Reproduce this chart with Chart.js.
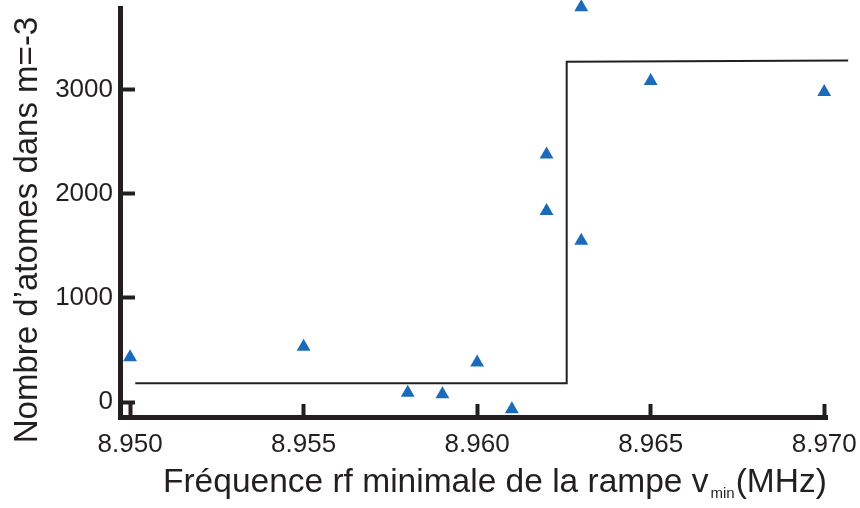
<!DOCTYPE html>
<html>
<head>
<meta charset="utf-8">
<script src="https://cdn.jsdelivr.net/npm/chart.js@4/dist/chart.umd.min.js"></script>
<style>
  body { margin: 0; background: #fff; }
  canvas { display: block; }
</style>
</head>
<body>
<canvas id="chart" width="860" height="508"></canvas>
<script>
// Données
const freqPoints = [8.950, 8.955, 8.958, 8.959, 8.960, 8.961, 8.962, 8.962, 8.963, 8.963, 8.965, 8.970];
const atomPoints = [430, 530, 90, 75, 380, -70, 2380, 1835, 3795, 1550, 3085, 2980];

// Ajustement en marche (fonction échelon)
const stepFreq = [8.95015, 8.96258, 8.96258, 8.97069];
const stepAtoms = [180, 180, 3270, 3282];

// Graduations
const xTicks = [8.950, 8.955, 8.960, 8.965, 8.970];
const yTicks = [0, 1000, 2000, 3000];

const yTitle = 'Nombre d’atomes dans m=-3';
const xTitleMain = 'Fréquence rf minimale de la rampe v';
const xTitleSub = 'min';
const xTitleUnit = '(MHz)';

const fontFamily = "'Liberation Sans', Arial, Helvetica, sans-serif";
const ink = '#231f20';
const blue = '#1c6bba';

Chart.defaults.font.family = fontFamily;
Chart.defaults.color = ink;

// Pas de marge automatique autour des axes
function noPadding(scale) {
    scale.paddingTop = 0;
    scale.paddingBottom = 0;
    scale.paddingLeft = 0;
    scale.paddingRight = 0;
}

// Titres des axes (avec indice pour v_min)
const axisTitles = {
    id: 'axisTitles',
    afterDraw(chart) {
        const ctx = chart.ctx;
        ctx.save();
        ctx.fillStyle = ink;
        ctx.font = '33px ' + fontFamily;
        ctx.textBaseline = 'alphabetic';

        ctx.save();
        ctx.translate(37, 230);
        ctx.rotate(-Math.PI / 2);
        ctx.textAlign = 'center';
        ctx.fillText(yTitle, 0, 0);
        ctx.restore();

        ctx.textAlign = 'left';
        let x = 163;
        const base = 492;
        ctx.font = '33.5px ' + fontFamily;
        ctx.fillText(xTitleMain, x, base);
        x += ctx.measureText(xTitleMain).width;
        ctx.font = '15px ' + fontFamily;
        ctx.fillText(xTitleSub, x + 2, base + 6);
        x += ctx.measureText(xTitleSub).width + 3;
        ctx.font = '33.5px ' + fontFamily;
        ctx.fillText(xTitleUnit, x, base);
        ctx.restore();
    }
};

const ctx = document.getElementById('chart').getContext('2d');
new Chart(ctx, {
    type: 'scatter',
    data: {
        datasets: [
            {
                type: 'line',
                data: stepFreq.map((f, i) => ({ x: f, y: stepAtoms[i] })),
                borderColor: ink,
                borderWidth: 2,
                pointRadius: 0,
                fill: false,
                tension: 0,
                clip: false
            },
            {
                data: freqPoints.map((f, i) => ({ x: f, y: atomPoints[i] })),
                pointStyle: 'triangle',
                pointRadius: 8,
                pointBackgroundColor: blue,
                pointBorderColor: blue,
                pointBorderWidth: 0,
                clip: false
            }
        ]
    },
    options: {
        responsive: false,
        animation: false,
        devicePixelRatio: 1,
        layout: { padding: { top: 7, right: 33, bottom: 0, left: 0 } },
        plugins: {
            legend: { display: false },
            tooltip: { enabled: false }
        },
        scales: {
            x: {
                type: 'linear',
                min: 8.94971,
                max: 8.97008,
                afterFit: scale => { scale.height = 91; noPadding(scale); },
                afterBuildTicks: scale => { scale.ticks = xTicks.map(v => ({ value: v })); },
                grid: {
                    drawOnChartArea: false,
                    drawTicks: true,
                    tickLength: -13,
                    tickWidth: 4,
                    tickColor: ink
                },
                border: { display: true, width: 5, color: ink },
                ticks: {
                    padding: 25,
                    maxRotation: 0,
                    font: { size: 26 },
                    color: ink,
                    callback: v => v.toFixed(3)
                }
            },
            y: {
                type: 'linear',
                min: -144,
                max: 3787,
                afterFit: scale => { scale.width = 120; noPadding(scale); },
                afterBuildTicks: scale => { scale.ticks = yTicks.map(v => ({ value: v })); },
                grid: {
                    drawOnChartArea: false,
                    drawTicks: true,
                    tickLength: -15,
                    tickWidth: 4,
                    tickColor: ink
                },
                border: { display: true, width: 5, color: ink },
                ticks: {
                    padding: 22,
                    font: { size: 26 },
                    color: ink,
                    callback: v => String(v)
                }
            }
        }
    },
    plugins: [axisTitles]
});
</script>
</body>
</html>
